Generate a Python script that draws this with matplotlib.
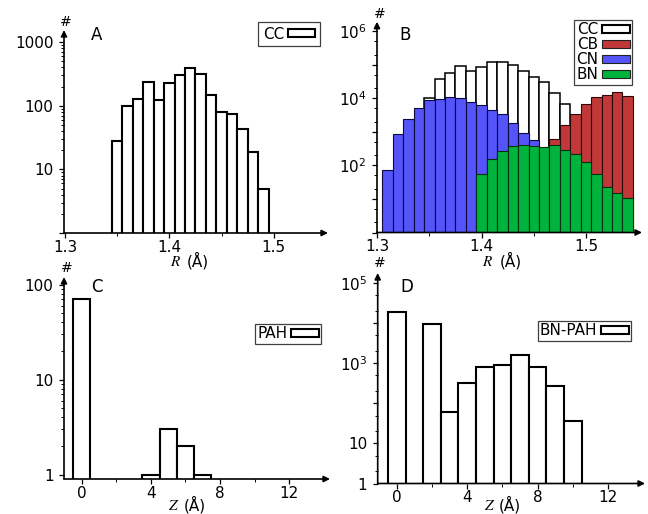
import numpy as np
import matplotlib
matplotlib.use("Agg")
import matplotlib.pyplot as plt
from matplotlib.patches import Patch
from matplotlib.ticker import FixedLocator, NullFormatter

plt.rcParams['font.family'] = ['DejaVu Sans']

# ---------------- data ----------------
# Panel A: CC bond lengths (bin centres, counts)
a_r = [1.35, 1.36, 1.37, 1.38, 1.39, 1.40, 1.41, 1.42, 1.43, 1.44, 1.45, 1.46, 1.47, 1.48, 1.49]
a_cc = [28, 98, 127, 235, 122, 229, 305, 385, 310, 147, 80, 75, 43, 19, 5]

# Panel B: bond lengths for BN-PAH
b_cc_r = [1.35, 1.36, 1.37, 1.38, 1.39, 1.40, 1.41, 1.42, 1.43, 1.44, 1.45, 1.46, 1.47, 1.48]
b_cc = [10000, 36300, 56200, 89100, 64600, 87000, 117000, 123000, 97700, 63000, 43600, 29500, 14100, 6600]
b_cb_r = [1.47, 1.48, 1.49, 1.50, 1.51, 1.52, 1.53, 1.54]
b_cb = [590, 1580, 3300, 6900, 11000, 12300, 15800, 11700]
b_cn_r = [1.31, 1.32, 1.33, 1.34, 1.35, 1.36, 1.37, 1.38, 1.39, 1.40, 1.41, 1.42, 1.43, 1.44, 1.45]
b_cn = [71, 870, 2450, 5250, 8700, 9800, 11200, 10200, 7760, 6160, 4570, 3300, 1820, 933, 562]
b_bn_r = [1.40, 1.41, 1.42, 1.43, 1.44, 1.45, 1.46, 1.47, 1.48, 1.49, 1.50, 1.51, 1.52, 1.53, 1.54]
b_bn = [56, 151, 275, 372, 398, 372, 347, 398, 295, 224, 129, 55, 22, 15, 10.7]

# Panel C: PAH heights
c_z = [0, 4, 5, 6, 7]
c_pah = [70, 1, 3, 2, 1]

# Panel D: BN-PAH heights
d_z = [0, 2, 3, 4, 5, 6, 7, 8, 9, 10]
d_bnpah = [19000, 9550, 60, 325, 830, 900, 1630, 830, 274, 36]

W, H = 648, 514
fig = plt.figure(figsize=(W / 100, H / 100), dpi=100)


def make_ax(left, right, bottom, top):
    return fig.add_axes([left / W, 1 - bottom / H, (right - left) / W, (bottom - top) / H])


def style(ax):
    for s in ax.spines.values():
        s.set_visible(False)
    ax.set_facecolor('none')
    kw = dict(arrowstyle='-|>', lw=1.2, color='k', mutation_scale=9, shrinkA=0, shrinkB=0)
    ax.annotate('', xy=(1, 0), xytext=(0, 0), xycoords='axes fraction', arrowprops=kw, annotation_clip=False)
    ax.annotate('', xy=(0, 1), xytext=(0, 0), xycoords='axes fraction', arrowprops=kw, annotation_clip=False)
    ax.tick_params(which='major', direction='out', length=3.5, width=0.9, labelsize=11)
    ax.tick_params(which='minor', direction='out', length=2.2, width=0.7)
    ax.tick_params(axis='x', which='major', pad=1.5)
    ax.tick_params(axis='y', which='major', pad=4)
    ax.tick_params(top=False, right=False)


def figtext(x, y, s, **kw):
    fig.text(x / W, 1 - y / H, s, ha='center', va='center', **kw)


def legend(ax, handles, labels, right, top, bp=0.15):
    lg = ax.legend(handles, labels, loc='upper right', bbox_to_anchor=(right / W, 1 - top / H),
                   bbox_transform=fig.transFigure, markerfirst=False, fancybox=False,
                   frameon=True, edgecolor='0.25', framealpha=1, fontsize=11,
                   handlelength=1.8, handleheight=0.45, handletextpad=0.25, labelspacing=0.0,
                   borderpad=bp, borderaxespad=0)
    lg.get_frame().set_linewidth(0.9)


def xlabel(xr, xa, y, letter):
    figtext(xr, y + 0.5, letter, family='STIXGeneral', style='italic', fontsize=11)
    figtext(xa, y, '(Å)', fontsize=11)


def decades(lo, hi, subs):
    return [m * 10 ** e for e in range(lo, hi) for m in subs]


# ---------------- Panel A ----------------
ax = make_ax(64, 328, 233, 30)
ax.bar(a_r, a_cc, width=0.01, color='white', edgecolor='k', linewidth=1.5)
ax.set_yscale('log')
ax.set_ylim(1, 10 ** 3.19)
ax.set_xlim(1.299, 1.552)
style(ax)
ax.yaxis.set_major_locator(FixedLocator([1, 10, 100, 1000]))
ax.set_yticklabels(['', '10', '100', '1000'])
ax.yaxis.set_minor_locator(FixedLocator(decades(0, 4, range(2, 10))))
ax.yaxis.set_minor_formatter(NullFormatter())
ax.set_xticks([1.3, 1.4, 1.5], ['1.3', '1.4', '1.5'])
ax.set_xticks([1.35, 1.45], minor=True)
legend(ax, [Patch(facecolor='white', edgecolor='k', linewidth=1.5)], ['CC'], 320, 22, bp=0.3)
figtext(96.5, 35, 'A', fontsize=12)
figtext(66, 22, '#', fontsize=10)
xlabel(175, 198, 261, 'R')

# ---------------- Panel B ----------------
ax = make_ax(377, 642, 232.5, 21.7)
cols = {'CC': 'white', 'CB': '#c03838', 'CN': '#5454f8', 'BN': '#00b33c'}
ax.bar(b_cc_r, b_cc, width=0.01, color=cols['CC'], edgecolor='k', linewidth=1.1)
ax.bar(b_cb_r, b_cb, width=0.01, color=cols['CB'], edgecolor='#2a0808', linewidth=0.8)
ax.bar(b_cn_r, b_cn, width=0.01, color=cols['CN'], edgecolor='#0a0a40', linewidth=0.8)
ax.bar(b_bn_r, b_bn, width=0.01, color=cols['BN'], edgecolor='#053010', linewidth=0.8)
ax.set_yscale('log')
ax.set_ylim(1, 10 ** 6.28)
ax.set_xlim(1.2999, 1.5537)
style(ax)
ax.yaxis.set_major_locator(FixedLocator([10 ** e for e in range(0, 7)]))
ax.set_yticklabels(['', '', r'$\mathregular{10^2}$', '', r'$\mathregular{10^4}$', '', r'$\mathregular{10^6}$'])
ax.yaxis.set_minor_locator(FixedLocator(decades(0, 6, [2, 5])))
ax.yaxis.set_minor_formatter(NullFormatter())
ax.set_xticks([1.3, 1.4, 1.5], ['1.3', '1.4', '1.5'])
ax.set_xticks([1.35, 1.45], minor=True)
hs = [Patch(facecolor=cols[k], edgecolor='k' if k == 'CC' else '#222222', linewidth=1.5 if k == 'CC' else 0.8)
      for k in ['CC', 'CB', 'CN', 'BN']]
legend(ax, hs, ['CC', 'CB', 'CN', 'BN'], 632, 20)
figtext(405, 35, 'B', fontsize=12)
figtext(379.5, 13.5, '#', fontsize=10)
xlabel(487, 511, 261, 'R')

# ---------------- Panel C ----------------
ax = make_ax(64, 330, 479, 277)
ax.bar(c_z, c_pah, width=1.0, color='white', edgecolor='k', linewidth=1.5)
ax.set_yscale('log')
ax.set_ylim(0.9, 120)
ax.set_xlim(-1.02, 14.35)
style(ax)
ax.yaxis.set_major_locator(FixedLocator([1, 10, 100]))
ax.set_yticklabels(['1', '10', '100'])
ax.yaxis.set_minor_locator(FixedLocator(decades(0, 2, range(2, 10))))
ax.yaxis.set_minor_formatter(NullFormatter())
ax.set_xticks([0, 4, 8, 12], ['0', '4', '8', '12'])
ax.set_xticks([2, 6, 10], minor=True)
legend(ax, [Patch(facecolor='white', edgecolor='k', linewidth=1.5)], ['PAH'], 321, 324)
figtext(96.5, 287, 'C', fontsize=12)
figtext(66.5, 268, '#', fontsize=10)
xlabel(172.5, 195, 505, 'Z')

# ---------------- Panel D ----------------
ax = make_ax(377.7, 645, 483.5, 273)
ax.bar(d_z, d_bnpah, width=1.0, color='white', edgecolor='k', linewidth=1.5)
ax.set_yscale('log')
ax.set_ylim(1, 10 ** 5.26)
ax.set_xlim(-1.08, 14.1)
style(ax)
ax.yaxis.set_major_locator(FixedLocator([10 ** e for e in range(0, 6)]))
ax.set_yticklabels(['1', '10', '', r'$\mathregular{10^3}$', '', r'$\mathregular{10^5}$'])
ax.yaxis.set_minor_locator(FixedLocator(decades(0, 5, [2, 5])))
ax.yaxis.set_minor_formatter(NullFormatter())
ax.set_xticks([0, 4, 8, 12], ['0', '4', '8', '12'])
ax.set_xticks([2, 6, 10], minor=True)
legend(ax, [Patch(facecolor='white', edgecolor='k', linewidth=1.5)], ['BN-PAH'], 631, 321)
figtext(406.5, 287, 'D', fontsize=12)
figtext(379.5, 263, '#', fontsize=10)
xlabel(488.5, 510, 505, 'Z')

fig.savefig('out.png', dpi=100)
